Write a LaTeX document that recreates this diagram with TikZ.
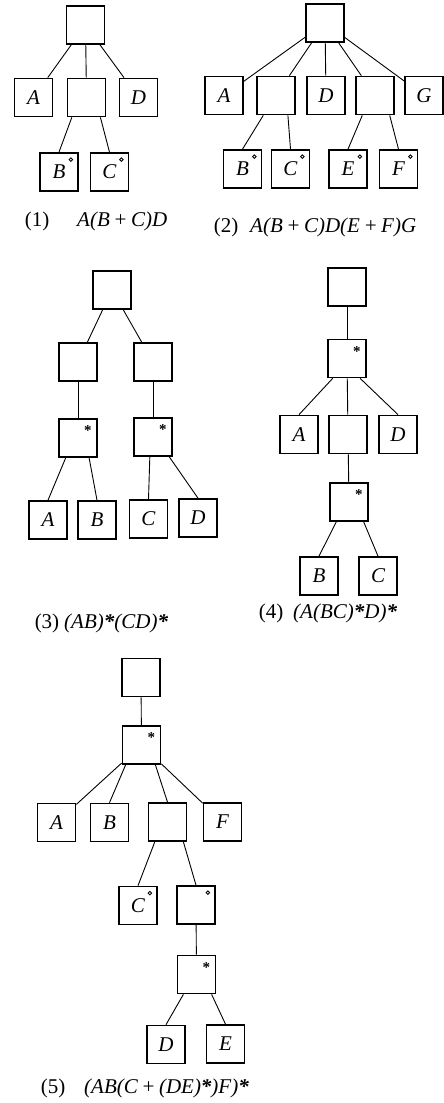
\documentclass[tikz,border=0pt]{standalone}
\usepackage{fontspec}
\setmainfont{Liberation Serif}
\usetikzlibrary{calc}
\newcommand\circmark[1]{\draw[circmk] ($(#1.north east)+(-8,7.5)$) circle (1.8pt);}
\newcommand\starmark[1]{\node[starmk] at ($(#1.north east)+(-10,12.5)$) {\textbf{*}};}
\newcommand\fromb[2]{($(#1.south west)!#2!(#1.south east)$)}
\newcommand\stp{\textbf{*}}
\begin{document}
\begin{tikzpicture}[x=1pt,y=-1pt,
  box/.style={draw, line width=1.7pt, minimum size=38pt, inner sep=0pt, font=\fontsize{21}{24}\selectfont\itshape},
  link/.style={line width=0.9pt},
  lbl/.style={font=\fontsize{21}{24}\selectfont, inner sep=0pt},
  expr/.style={font=\fontsize{21}{24}\selectfont\itshape, inner sep=0pt, anchor=west},
  circmk/.style={line width=0.9pt},
  starmk/.style={inner sep=0pt, font=\fontsize{15}{15}\selectfont}]
\fill[white] (0,0) rectangle (444,1103);
\useasboundingbox (0,0) rectangle (444,1103);

% ---------- (1)
\node[box] (r1) at (85.5,25) {};
\node[box] (a1) at (33.5,97.5) {A};
\node[box] (m1) at (86.5,97.5) {};
\node[box] (d1) at (138.5,97.5) {D};
\node[box] (b1) at (59,172) {B};
\node[box] (c1) at (109.5,172) {C};
\draw[link] (r1) -- (a1);
\draw[link] (r1) -- (m1);
\draw[link] (r1) -- (d1);
\draw[link] \fromb{m1}{0.13} -- (b1.north);
\draw[link] \fromb{m1}{0.85} -- (c1.north);
\circmark{b1}\circmark{c1}
\node[lbl] (n1) at (37,221) {(1)};
\node[expr] (e1) at (77,221) {A(B\,+\,C)D};

% ---------- (2)
\node[box] (r2) at (325,23) {};
\node[box] (a2) at (224,95.5) {A};
\node[box] (ma2) at (276,95.5) {};
\node[box] (d2) at (326,95.5) {D};
\node[box] (mb2) at (375,95.5) {};
\node[box] (g2) at (424,95.5) {G};
\node[box] (b2) at (242.5,169) {B};
\node[box] (c2) at (290.5,169) {C};
\node[box] (e2) at (348,169) {E};
\node[box] (f2) at (398.5,169) {F};
\draw[link] (r2) -- (a2);
\draw[link] (r2) -- (ma2);
\draw[link] (r2) -- (d2);
\draw[link] (r2) -- (mb2);
\draw[link] (r2) -- (g2);
\draw[link] \fromb{ma2}{0.18} -- (b2.north);
\draw[link] \fromb{ma2}{0.8} -- (c2.north);
\draw[link] \fromb{mb2}{0.18} -- (e2.north);
\draw[link] \fromb{mb2}{0.87} -- (f2.north);
\circmark{b2}\circmark{c2}\circmark{e2}\circmark{f2}
\node[lbl] (n2) at (226,227) {(2)};
\node[expr] (e2l) at (250,227) {A(B\,+\,C)D(E\,+\,F)G};

% ---------- (3)
\node[box] (r3) at (112,290) {};
\node[box] (l3) at (78,362) {};
\node[box] (q3) at (153,362) {};
\node[box] (s3) at (78,438) {};
\node[box] (t3) at (153,437) {};
\node[box] (a3) at (48,520) {A};
\node[box] (b3) at (97,520) {B};
\node[box] (c3) at (148.5,519) {C};
\node[box] (d3) at (198,518) {D};
\draw[link] (r3) -- (l3);
\draw[link] (r3) -- (q3);
\draw[link] (l3) -- (s3);
\draw[link] (q3) -- (t3);
\draw[link] \fromb{s3}{0.19} -- (a3.north);
\draw[link] \fromb{s3}{0.78} -- (b3.north);
\draw[link] \fromb{t3}{0.42} -- (c3.north);
\draw[link] \fromb{t3}{0.91} -- (d3.north);
\starmark{s3}\starmark{t3}
\node[lbl] (n3) at (47,623) {(3)};
\node[expr] (e3) at (64,623) {(AB)\stp(CD)\stp};

% ---------- (4)
\node[box] (r4) at (347,287) {};
\node[box] (s4) at (347,358.5) {};
\node[box] (a4) at (299,434.5) {A};
\node[box] (m4) at (348,434.5) {};
\node[box] (d4) at (398,434.5) {D};
\node[box] (u4) at (349,502) {};
\node[box] (b4) at (319,576) {B};
\node[box] (c4) at (378,576) {C};
\draw[link] (r4) -- (s4);
\draw[link] \fromb{s4}{0.14} -- (a4.north);
\draw[link] (s4) -- (m4);
\draw[link] \fromb{s4}{0.83} -- (d4.north);
\draw[link] (m4) -- (u4);
\draw[link] \fromb{u4}{0.18} -- (b4.north);
\draw[link] \fromb{u4}{0.87} -- (c4.north);
\starmark{s4}\starmark{u4}
\node[lbl] (n4) at (271,613) {(4)};
\node[expr] (e4) at (293,613) {(A(BC)\stp D)\stp};

% ---------- (5)
\node[box] (r5) at (141,677.5) {};
\node[box] (s5) at (141.5,745) {};
\node[box] (a5) at (56.5,822.5) {A};
\node[box] (b5) at (109.5,822.5) {B};
\node[box] (m5) at (167.5,822) {};
\node[box] (f5) at (222.5,822) {F};
\node[box] (c5) at (138,905.5) {C};
\node[box] (o5) at (196,905) {};
\node[box] (u5) at (196.5,974.5) {};
\node[box] (d5) at (166,1044.5) {D};
\node[box] (e5) at (225.5,1044) {E};
\draw[link] (r5) -- (s5);
\draw[link] (s5) -- (a5);
\draw[link] \fromb{s5}{0.1} -- (b5.north);
\draw[link] \fromb{s5}{0.85} -- (m5.north);
\draw[link] (s5) -- (f5);
\draw[link] \fromb{m5}{0.18} -- (c5.north);
\draw[link] \fromb{m5}{0.9} -- (o5.north);
\draw[link] (o5) -- (u5);
\draw[link] \fromb{u5}{0.17} -- (d5.north);
\draw[link] \fromb{u5}{0.88} -- (e5.north);
\starmark{s5}\circmark{c5}\circmark{o5}\starmark{u5}
\node[lbl] (n5) at (53,1088) {(5)};
\node[expr] (e5l) at (84,1088) {(AB(C\,+\,(DE)\stp)F)\stp};
\end{tikzpicture}
\end{document}
